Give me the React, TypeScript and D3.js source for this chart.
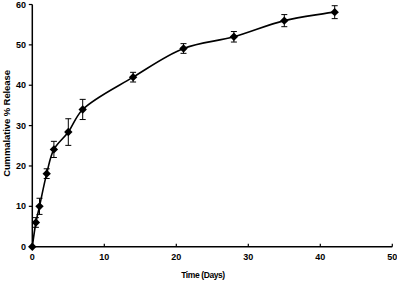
import React from "react";
import * as d3 from "d3";

const days = [0, 0.5, 1, 2, 3, 5, 7, 14, 21, 28, 35, 42];
const release = [0, 6, 10, 18.1, 24.1, 28.4, 34, 42, 49.1, 52, 56, 58.1];
const errors = [0, 1.2, 2, 1.2, 2, 3.3, 2.5, 1.2, 1.2, 1.3, 1.5, 1.6];
const xTicks = [0, 10, 20, 30, 40, 50];
const yTicks = [0, 10, 20, 30, 40, 50, 60];
const xTitle = "Time (Days)";
const yTitle = "Cummalative % Release";

export default function App() {
  const W = 397, H = 281;
  const x = d3.scaleLinear().domain([0, 50]).range([32.3, 392.3]);
  const y = d3.scaleLinear().domain([0, 60]).range([246.7, 4.5]);
  const pts = days.map((d, i) => [d, release[i]] as [number, number]);
  const line = d3.line<[number, number]>()
    .x(d => x(d[0])).y(d => y(d[1]))
    .curve(d3.curveCatmullRom.alpha(0.5));
  const font = "'Liberation Sans', Arial, sans-serif";
  const diamond = (cx: number, cy: number, r: number) =>
    `M${cx},${cy - r}L${cx + r},${cy}L${cx},${cy + r}L${cx - r},${cy}Z`;
  return (
    <svg width={W} height={H} style={{ position: "absolute", left: 0, top: 0, background: "#fff" }}>
      <line x1={x(0)} x2={x(0)} y1={y(60)} y2={y(0)} stroke="#000" strokeWidth={1.5} />
      <line x1={x(0)} x2={x(50)} y1={y(0)} y2={y(0)} stroke="#000" strokeWidth={1.5} />
      {yTicks.map(t => (
        <g key={"y" + t}>
          <line x1={x(0) - 3.5} x2={x(0)} y1={y(t)} y2={y(t)} stroke="#000" strokeWidth={1.2} />
          <text x={26} y={y(t)} dy="0.35em" textAnchor="end" fontFamily={font} fontWeight="bold" fontSize={9}>{t}</text>
        </g>
      ))}
      {xTicks.map(t => (
        <g key={"x" + t}>
          <line x1={x(t)} x2={x(t)} y1={y(0)} y2={y(0) - 3} stroke="#000" strokeWidth={1.2} />
          <text x={x(t)} y={260} textAnchor="middle" fontFamily={font} fontWeight="bold" fontSize={9}>{t}</text>
        </g>
      ))}
      <text x={203} y={278} textAnchor="middle" fontFamily={font} fontWeight="bold" fontSize={8.5} letterSpacing={-0.4}>{xTitle}</text>
      <text transform={`translate(10,123.5) rotate(-90)`} textAnchor="middle" fontFamily={font} fontWeight="bold" fontSize={9.5} letterSpacing={-0.1}>{yTitle}</text>
      {pts.map((p, i) => errors[i] > 0 ? (
        <g key={"e" + i} stroke="#000" strokeWidth={1}>
          <line x1={x(p[0])} x2={x(p[0])} y1={y(p[1] + errors[i])} y2={y(p[1] - errors[i])} />
          <line x1={x(p[0]) - 3} x2={x(p[0]) + 3} y1={y(p[1] + errors[i])} y2={y(p[1] + errors[i])} />
          <line x1={x(p[0]) - 3} x2={x(p[0]) + 3} y1={y(p[1] - errors[i])} y2={y(p[1] - errors[i])} />
        </g>
      ) : null)}
      <path d={line(pts) || ""} fill="none" stroke="#000" strokeWidth={1.6} />
      {pts.map((p, i) => (
        <path key={"m" + i} d={diamond(x(p[0]), y(p[1]), 4.2)} fill="#000" />
      ))}
    </svg>
  );
}
